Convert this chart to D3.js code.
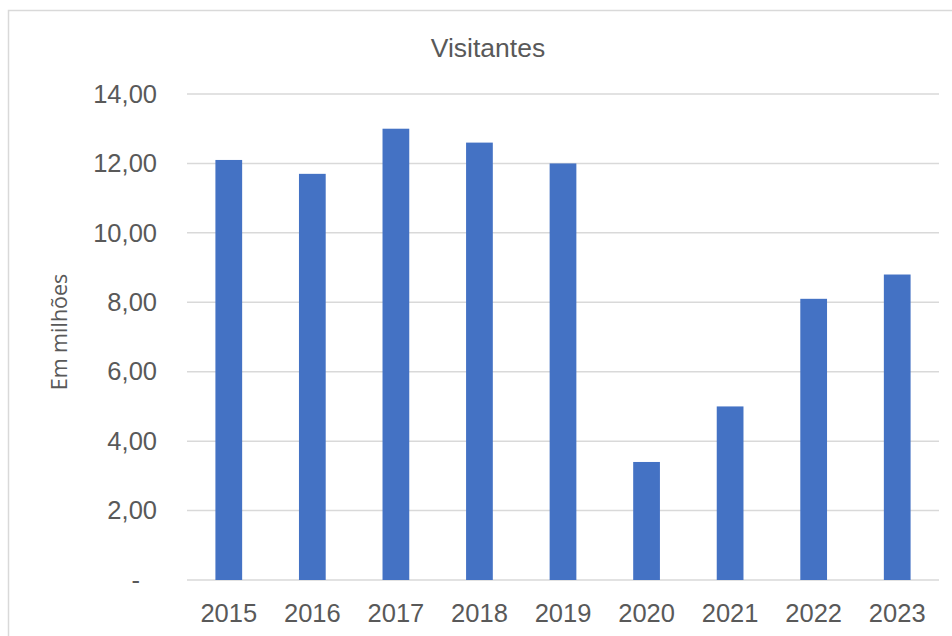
<!DOCTYPE html>
<html><head><meta charset="utf-8">
<script src="https://cdn.jsdelivr.net/npm/d3@7"></script>
<style>body{margin:0;background:#fff}svg{display:block}</style>
</head><body>
<script>
const years = ["2015","2016","2017","2018","2019","2020","2021","2022","2023"];
const visitors = [12.1, 11.7, 13.0, 12.6, 12.0, 3.4, 5.0, 8.1, 8.8];
const yTicks = [0, 2, 4, 6, 8, 10, 12, 14];
const title = "Visitantes";
const yLabel = "Em milhões";

const W = 952, H = 636;
const svg = d3.select("body").append("svg").attr("width", W).attr("height", H);
svg.append("rect").attr("x", 8.5).attr("y", 10.5).attr("width", 1000).attr("height", 700)
  .attr("fill", "#fff").attr("stroke", "#d9d9d9").attr("stroke-width", 1.5);

const pL = 187, pR = 939, pT = 94, pB = 580;
const x = d3.scaleBand().domain(years).range([pL, pR]).paddingInner(0.68).paddingOuter(0.34);
const y = d3.scaleLinear().domain([0, 14]).range([pB, pT]);

const fmt = v => v === 0 ? "-" : d3.format(".2f")(v).replace(".", ",");

const grid = svg.append("g");
grid.selectAll("line").data(yTicks).join("line")
  .attr("x1", pL).attr("x2", pR)
  .attr("y1", d => y(d)).attr("y2", d => y(d))
  .attr("stroke", "#d9d9d9").attr("stroke-width", 1.5);

const yAxis = d3.axisLeft(y).tickValues(yTicks).tickFormat(fmt).tickSize(0).tickPadding(30);
const ga = svg.append("g").attr("transform", `translate(${pL},0)`).call(yAxis);
ga.select(".domain").remove();
ga.selectAll("text").attr("font-family", "Liberation Sans, Arial, sans-serif")
  .attr("font-size", 25.5).attr("fill", "#595959")
  .attr("dx", d => d === 0 ? -17 : 0);

svg.append("g").selectAll("rect").data(years).join("rect")
  .attr("x", d => x(d)).attr("width", x.bandwidth())
  .attr("y", (d, i) => y(visitors[i])).attr("height", (d, i) => y(0) - y(visitors[i]))
  .attr("fill", "#4472C4");

const xAxis = d3.axisBottom(x).tickSize(0).tickPadding(24);
const gx = svg.append("g").attr("transform", `translate(0,${pB})`).call(xAxis);
gx.select(".domain").remove();
gx.selectAll("text").attr("font-family", "Liberation Sans, Arial, sans-serif")
  .attr("font-size", 25.5).attr("fill", "#595959");

svg.append("text").attr("x", (pL + pR) / 2 - 75).attr("y", 57)
  .attr("text-anchor", "middle").attr("font-family", "Liberation Sans, Arial, sans-serif")
  .attr("font-size", 26.5).attr("fill", "#595959").text(title);

svg.append("text").attr("transform", `translate(67,${(pT + pB) / 2 - 5}) rotate(-90)`)
  .attr("text-anchor", "middle").attr("font-family", "Open Sans, sans-serif")
  .attr("font-size", 21.5).attr("fill", "#595959").text(yLabel);
</script>
</body></html>
